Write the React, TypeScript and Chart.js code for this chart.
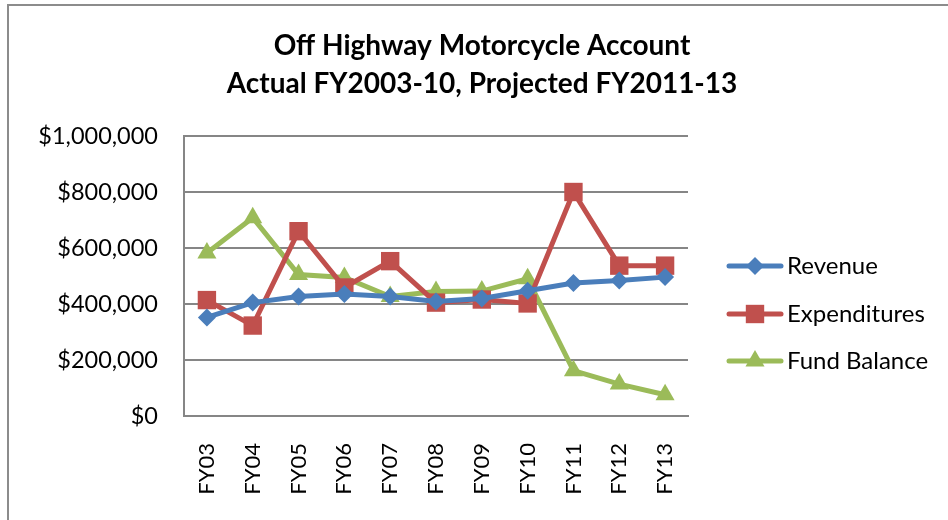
import React, { useEffect, useRef } from "react";
import { Chart, registerables } from "chart.js";

Chart.register(...registerables);

const categories = ["FY03", "FY04", "FY05", "FY06", "FY07", "FY08", "FY09", "FY10", "FY11", "FY12", "FY13"];
const revenue = [352000, 405000, 427000, 436000, 427000, 409000, 420000, 447000, 475000, 484000, 496000];
const expenditures = [414000, 323000, 660000, 459000, 553000, 405000, 416000, 402000, 800000, 537000, 537000];
const fundBalance = [582000, 708000, 505000, 495000, 427000, 445000, 446000, 490000, 162000, 114000, 76000];
const titleLines = ["Off Highway Motorcycle Account", "Actual FY2003-10, Projected FY2011-13"];
const seriesNames = ["Revenue", "Expenditures", "Fund Balance"];
const yTicks = [0, 200000, 400000, 600000, 800000, 1000000];

const BLUE = "#4A7EBB";
const RED = "#C0504D";
const GREEN = "#9BBB59";
const FONT = "Lato, 'Open Sans', sans-serif";

function drawMarker(ctx: CanvasRenderingContext2D, style: string, x: number, y: number, r: number) {
  ctx.beginPath();
  if (style === "rectRot") {
    ctx.moveTo(x, y - r);
    ctx.lineTo(x + r, y);
    ctx.lineTo(x, y + r);
    ctx.lineTo(x - r, y);
  } else if (style === "rect") {
    const s = Math.SQRT1_2 * r;
    ctx.rect(x - s, y - s, 2 * s, 2 * s);
  } else {
    const a = Math.PI / 6;
    ctx.moveTo(x, y - r);
    ctx.lineTo(x + r * Math.cos(a), y + r * Math.sin(a));
    ctx.lineTo(x - r * Math.cos(a), y + r * Math.sin(a));
  }
  ctx.closePath();
  ctx.fill();
}

const decorPlugin = {
  id: "decor",
  afterDraw(chart: any) {
    const ctx = chart.ctx as CanvasRenderingContext2D;
    ctx.save();
    // title
    ctx.fillStyle = "#000";
    ctx.font = `bold 28px ${FONT}`;
    ctx.textAlign = "center";
    ctx.textBaseline = "middle";
    ctx.fillText(titleLines[0], 482, 46);
    ctx.fillText(titleLines[1], 482, 84);
    // legend
    const ys = [266, 314, 361];
    chart.data.datasets.forEach((ds: any, i: number) => {
      const y = ys[i];
      ctx.strokeStyle = ds.borderColor;
      ctx.lineWidth = 5;
      ctx.lineCap = "round";
      ctx.beginPath();
      ctx.moveTo(729, y);
      ctx.lineTo(781, y);
      ctx.stroke();
      ctx.fillStyle = ds.backgroundColor;
      drawMarker(ctx, ds.pointStyle, 755, y, ds.pointRadius);
      ctx.fillStyle = "#000";
      ctx.font = `24px ${FONT}`;
      ctx.textAlign = "left";
      ctx.textBaseline = "middle";
      ctx.fillText(seriesNames[i], 787, y);
    });
    ctx.restore();
  },
};

export default function App() {
  const ref = useRef<HTMLCanvasElement | null>(null);
  useEffect(() => {
    if (!ref.current) return;
    const chart = new Chart(ref.current, {
      type: "line",
      data: {
        labels: categories,
        datasets: [
          { label: seriesNames[0], data: revenue, borderColor: BLUE, backgroundColor: BLUE, pointStyle: "rectRot", pointRadius: 9, pointBorderWidth: 0 },
          { label: seriesNames[1], data: expenditures, borderColor: RED, backgroundColor: RED, pointStyle: "rect", pointRadius: 13, pointBorderWidth: 0 },
          { label: seriesNames[2], data: fundBalance, borderColor: GREEN, backgroundColor: GREEN, pointStyle: "triangle", pointRadius: 11, pointBorderWidth: 0 },
        ].map((d) => ({ ...d, borderWidth: 5, tension: 0, fill: false })),
      },
      options: {
        animation: false,
        responsive: false,
        devicePixelRatio: 1,
        layout: { padding: { left: 0, top: 136, right: 276, bottom: 0 } },
        plugins: { legend: { display: false }, title: { display: false }, tooltip: { enabled: false } },
        scales: {
          x: {
            offset: true,
            grid: { display: false, drawTicks: false },
            border: { display: true, color: "#868686", width: 2 },
            ticks: { color: "#000", font: { family: FONT, size: 22 }, minRotation: 90, maxRotation: 90, padding: 27 },
            afterFit: (s: any) => { s.height = 104; },
          },
          y: {
            min: 0,
            max: 1000000,
            afterBuildTicks: (s: any) => { s.ticks = yTicks.map((v) => ({ value: v })); },
            grid: { color: "#868686", lineWidth: 2, drawTicks: false },
            border: { display: true, color: "#868686", width: 2 },
            ticks: {
              color: "#000",
              font: { family: FONT, size: 23.5 },
              padding: 26,
              callback: (v: any) => "$" + Number(v).toLocaleString("en-US"),
            },
            afterFit: (s: any) => { s.width = 184; },
          },
        },
      },
      plugins: [decorPlugin],
    });
    return () => chart.destroy();
  }, []);
  return (
    <div style={{ position: "fixed", left: 0, top: 0, width: 948, height: 520, overflow: "hidden", background: "#fff" }}>
      <div style={{ position: "absolute", left: 7, top: 4, width: 1000, height: 600, border: "2px solid #8c8c8c", boxSizing: "border-box" }} />
      <canvas ref={ref} width={964} height={520} style={{ position: "absolute", left: 0, top: 0, width: 964, height: 520 }} />
    </div>
  );
}
